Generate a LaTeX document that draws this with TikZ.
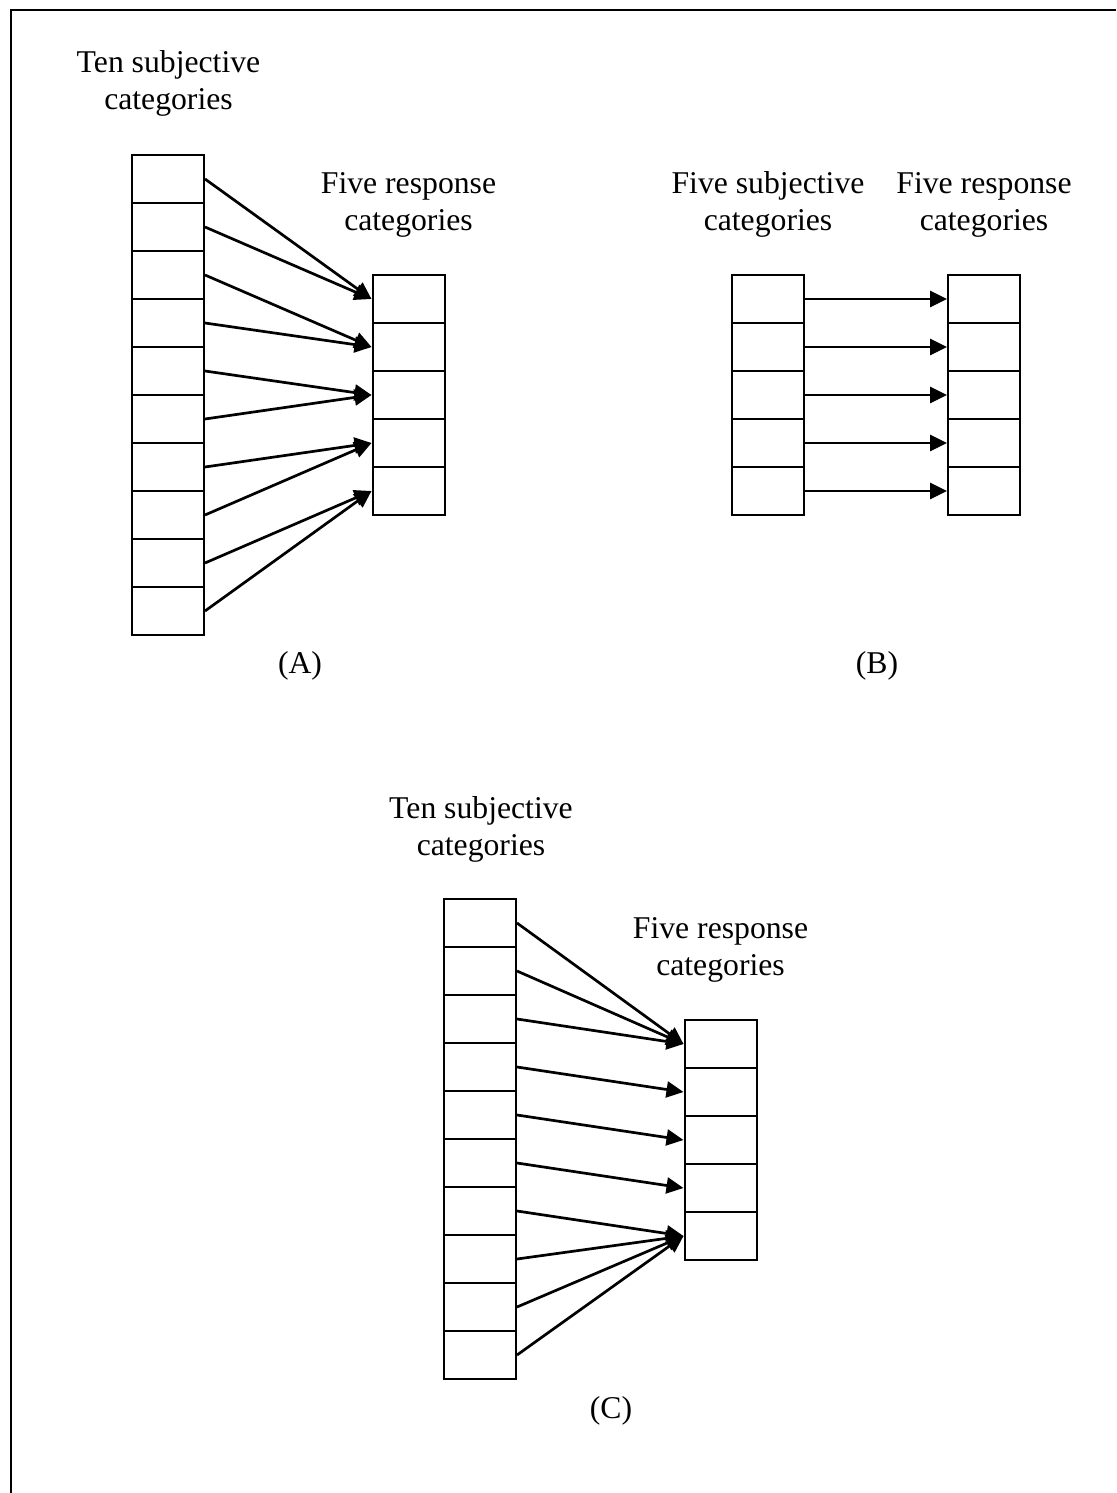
\documentclass[tikz,border=0pt]{standalone}
\usepackage{fontspec}
\setmainfont{Liberation Serif}
\usetikzlibrary{arrows.meta}
\begin{document}
\begin{tikzpicture}[x=0.5pt,y=-0.5pt,
  cell/.style={draw, line width=1pt, rectangle, minimum width=36pt, minimum height=24pt, inner sep=0pt},
  link/.style={line width=1.35pt, -{Triangle[length=8.5pt,width=8pt]}},
  lbl/.style={font=\fontsize{15.85pt}{18.5pt}\selectfont, align=center, inner sep=0pt, anchor=base},
  frameline/.style={line width=1pt}]
\useasboundingbox (0,0) rectangle (1116,1493);
\draw[frameline] (1116,10) -- (11,10) -- (11,1493);

% (A)
\foreach \i in {1,...,10} \node[cell] (AL\i) at (168,{179+48*(\i-1)}) {};
\foreach \j in {1,...,5} \node[cell] (AR\j) at (408.5,{299+48*(\j-1)}) {};
\foreach \i/\j in {1/1,2/1,3/2,4/2,5/3,6/3,7/4,8/4,9/5,10/5}
  \draw[link] (AL\i.east) -- (AR\j.west);
\node[lbl] (tA1) at (168.5,110) {Ten subjective\\categories};
\node[lbl] (tA2) at (408.5,230) {Five response\\categories};
\node[lbl] (capA) at (300,673) {(A)};

% (B)
\foreach \j in {1,...,5} \node[cell] (BL\j) at (768,{299+48*(\j-1)}) {};
\foreach \j in {1,...,5} \node[cell] (BR\j) at (984,{299+48*(\j-1)}) {};
\foreach \j in {1,...,5}
  \draw[link] (BL\j.east) -- (BR\j.west);
\node[lbl] (tB1) at (768,230) {Five subjective\\categories};
\node[lbl] (tB2) at (984,230) {Five response\\categories};
\node[lbl] (capB) at (877,673) {(B)};

% (C)
\foreach \i in {1,...,10} \node[cell] (CL\i) at (480,{923+48*(\i-1)}) {};
\foreach \j in {1,...,5} \node[cell] (CR\j) at (720.5,{1044+48*(\j-1)}) {};
\foreach \i/\j in {1/1,2/1,3/1,4/2,5/3,6/4,7/5,8/5,9/5,10/5}
  \draw[link] (CL\i.east) -- (CR\j.west);
\node[lbl] (tC1) at (481,855) {Ten subjective\\categories};
\node[lbl] (tC2) at (720.5,975) {Five response\\categories};
\node[lbl] (capC) at (611,1418) {(C)};
\end{tikzpicture}
\end{document}
